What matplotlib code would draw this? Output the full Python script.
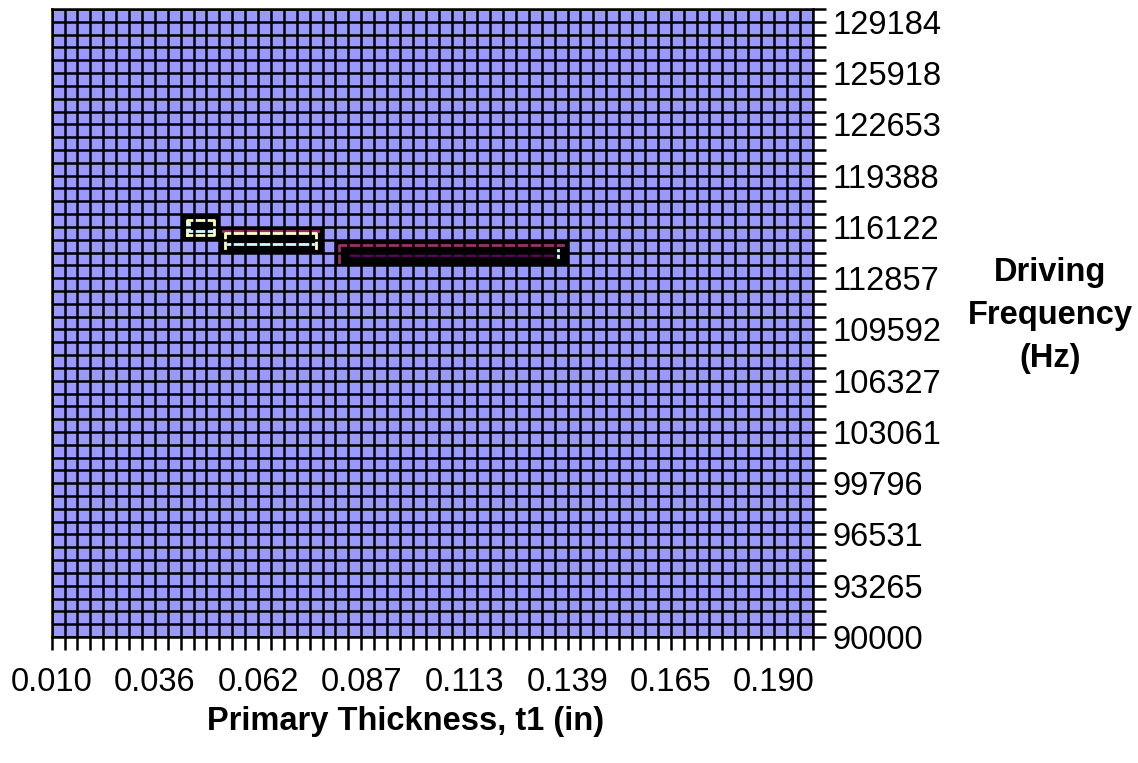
import matplotlib
matplotlib.use("Agg")
import matplotlib.pyplot as plt
from matplotlib.colors import ListedColormap
import numpy as np

plt.rcParams['font.family'] = ['Liberation Sans', 'DejaVu Sans']

# Ejes de categorias (rejilla de la superficie)
thickness = np.linspace(0.010, 0.200, 60)
frequency = np.linspace(90000, 130000, 50)

x_labels = ['0.010', '0.036', '0.062', '0.087', '0.113', '0.139', '0.165', '0.190']
y_labels = ['90000', '93265', '96531', '99796', '103061', '106327', '109592',
            '112857', '116122', '119388', '122653', '125918', '129184']

# Zonas oscuras (fuera de la banda base)
zone_t0 = [0.0422, 0.0519, 0.0808]
zone_t1 = [0.0519, 0.0776, 0.1388]
zone_f0 = [115306, 114490, 113673]
zone_f1 = [116939, 116122, 115306]

# Contornos de bandas dentro de las zonas: (color, [t...], [f...])
band_lines = [
    ('#FFFFC0', [0.0438, 0.0438, 0.0506, 0.0506, 0.0438], [115600, 116555, 116555, 115600, 115600]),
    ('#CCFFFF', [0.0443, 0.0443, 0.0500], [116367, 115857, 115857]),
    ('#993366', [0.0528, 0.0765], [115870, 115870]),
    ('#FFFFC0', [0.0532, 0.0532, 0.0761, 0.0761], [114790, 115714, 115714, 114790]),
    ('#CCFFFF', [0.0540, 0.0752], [115026, 115026]),
    ('#993366', [0.0818, 0.0818, 0.1376], [113898, 114961, 114961]),
    ('#660066', [0.0842, 0.1352], [114326, 114326]),
    ('#CCFFFF', [0.1363, 0.1363], [114198, 114653]),
]

fig = plt.figure(figsize=(11.38, 7.63), dpi=100)
ax = fig.add_axes([0.0454, 0.1651, 0.6687, 0.8231])

# Celdas: 0 = banda base, 1 = zona oscura
tc = (thickness[:-1] + thickness[1:]) / 2
fc = (frequency[:-1] + frequency[1:]) / 2
T, F = np.meshgrid(tc, fc)
Z = np.zeros_like(T)
for t0, t1, f0, f1 in zip(zone_t0, zone_t1, zone_f0, zone_f1):
    Z[(T > t0) & (T < t1) & (F > f0) & (F < f1)] = 1

ax.pcolormesh(thickness, frequency, Z, cmap=ListedColormap(['#9999FF', 'black']),
              vmin=0, vmax=1, zorder=1)

for color, ts, fs in band_lines:
    ax.plot(ts, fs, color=color, lw=2, zorder=2)

ax.set_xlim(thickness[0], thickness[-1])
ax.set_ylim(frequency[0], frequency[-1])

ax.set_xticks(thickness)
ax.set_xticklabels([x_labels[i // 8] if i % 8 == 0 and i // 8 < len(x_labels) else ''
                    for i in range(len(thickness))])
ax.yaxis.tick_right()
ax.set_yticks(frequency)
ax.set_yticklabels([y_labels[i // 4] if i % 4 == 0 and i // 4 < len(y_labels) else ''
                    for i in range(len(frequency))])

ax.tick_params(axis='both', length=9.5, width=1.8, color='black', labelsize=23.5)
ax.tick_params(axis='x', pad=12)
ax.tick_params(axis='y', pad=5)

ax.set_axisbelow(False)
ax.grid(True, color='black', lw=1.8)
for s in ax.spines.values():
    s.set_linewidth(1.8)
    s.set_color('black')

fig.text(0.356, 0.055, 'Primary Thickness, t1 (in)', fontsize=23.5,
         fontweight='bold', ha='center', va='center')
fig.text(0.9227, 0.586, 'Driving\nFrequency\n(Hz)', fontsize=23.5,
         fontweight='bold', ha='center', va='center', linespacing=1.5)

fig.savefig('out.png', dpi=100)
